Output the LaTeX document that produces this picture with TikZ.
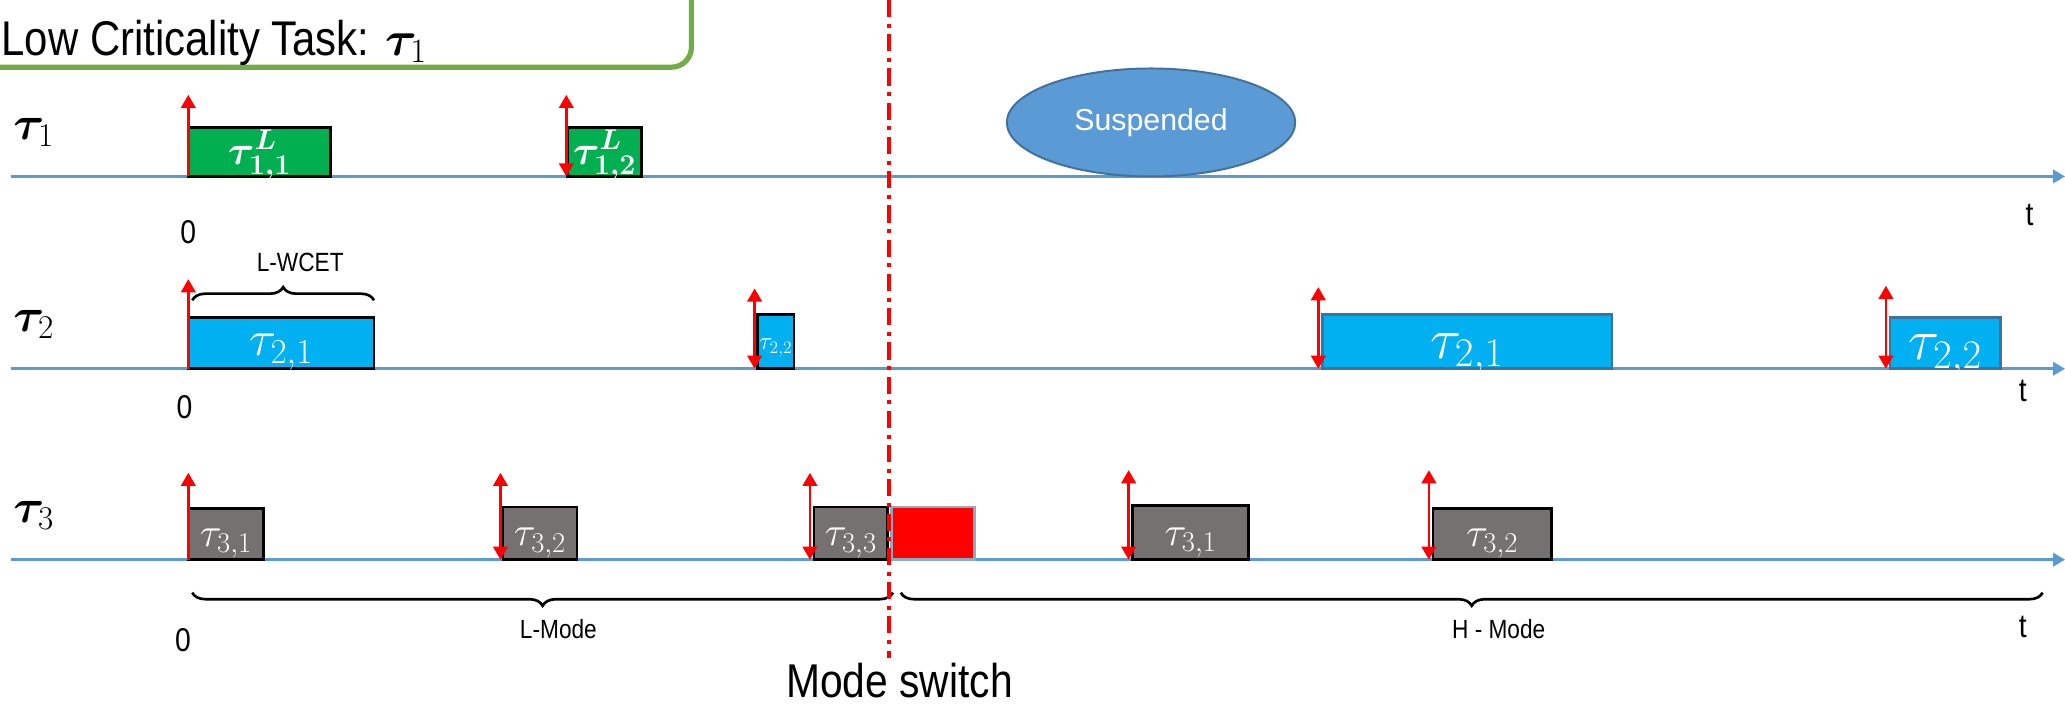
\RequirePackage{fix-cm}
\documentclass[tikz,border=0pt]{standalone}
\usepackage{bm}
\usepackage{fontspec}
\setmainfont{Liberation Sans}
\newfontfamily\narrowfont[FakeStretch=0.86]{Liberation Sans}
\usetikzlibrary{shapes.geometric, arrows.meta, positioning, decorations.pathreplacing}
\definecolor{jobgreen}{HTML}{00B050}
\definecolor{jobcyan}{HTML}{00B0F0}
\definecolor{jobgray}{HTML}{767171}
\definecolor{axisblue}{HTML}{5B9BD5}
\definecolor{edgeblue}{HTML}{41719C}
\definecolor{framegreen}{HTML}{70AD47}
\tikzstyle{job} = [
    rectangle,
    anchor=south west,
    inner sep=0pt,
    outer sep=0pt,
    text=white,
    text height=19pt,
    text depth=0pt,
    draw=black,
    line width=2pt,
    font=\fontsize{31}{36}\selectfont
]
\tikzstyle{lowjob} = [job, fill=jobgreen]
\tikzstyle{midjob} = [job, fill=jobcyan]
\tikzstyle{highjob} = [job, fill=jobcyan, draw=edgeblue, text height=25pt, font=\fontsize{44}{50}\selectfont]
\tikzstyle{grayjob} = [job, fill=jobgray]
\tikzstyle{timeaxis} = [
    axisblue, 
    line width=2pt, 
    -{Triangle[length=9pt, width=10pt]}
]
\tikzstyle{release} = [red, line width=2pt, -{Triangle[length=10pt, width=11pt]}]
\tikzstyle{releaseboth} = [red, line width=2pt, {Triangle[length=10pt, width=11pt]}-{Triangle[length=10pt, width=11pt]}]
\tikzstyle{spanbrace} = [decorate, decoration={brace, amplitude=10pt}, line width=2pt]
\tikzstyle{rowlabel} = [anchor=base west, inner sep=0pt, font=\fontsize{36}{42}\selectfont]
\tikzstyle{origin} = [inner sep=0pt, font=\narrowfont\fontsize{25}{30}\selectfont]
\tikzstyle{spanlabel} = [inner sep=0pt, font=\narrowfont\fontsize{20}{24}\selectfont]
\tikzstyle{modeline} = [red, line width=3.5pt, dash pattern=on 13pt off 5pt on 3pt off 5pt]

\begin{document}
\begin{tikzpicture}[x=1pt, y=-1pt]

\useasboundingbox (0,0) rectangle (1568,537);
\clip (0,0) rectangle (1568,537);

% Legend frame
\draw [framegreen, line width=4pt, rounded corners=15pt] (-30,-40) rectangle (525,51);
\node (legend) [anchor=base west, inner sep=0pt, font=\narrowfont\fontsize{37}{42}\selectfont] at (1,42) {Low Criticality Task: $\bm{\tau}_1$};

% Axes
\coordinate (ax1) at (8,134);
\coordinate (ax1e) at (1568,134);
\coordinate (ax2) at (8,280);
\coordinate (ax2e) at (1568,280);
\coordinate (ax3) at (8,425);
\coordinate (ax3e) at (1568,425);
\draw [timeaxis] (ax1) -- (ax1e);
\draw [timeaxis] (ax2) -- (ax2e);
\draw [timeaxis] (ax3) -- (ax3e);

\node (task1) [rowlabel] at (10,106) {$\bm{\tau}_1$};
\node (task2) [rowlabel] at (10,252) {$\bm{\tau}_2$};
\node (task3) [rowlabel] at (10,397) {$\bm{\tau}_3$};

\node (zero1) [origin] at (143,176) {0};
\node (zero2) [origin] at (140,309) {0};
\node (zero3) [origin] at (139,486) {0};
\node (time1) [origin] at (1541,163) {t};
\node (time2) [origin] at (1536,297) {t};
\node (time3) [origin] at (1536,476) {t};

% Nodes
\node (j11) [lowjob, minimum width=108pt, minimum height=37pt] at (143,134) {$\bm{\tau^{L}_{1,1}}$};
\node (j12) [lowjob, minimum width=56pt, minimum height=37pt] at (431,134) {$\bm{\tau^{L}_{1,2}}$};
\node (susp) [ellipse, draw=edgeblue, fill=axisblue, line width=1.5pt, minimum width=219pt, minimum height=82pt, text=white, font=\fontsize{23}{27}\selectfont] at (874,93) {Suspended};

\node (j21) [midjob, minimum width=141pt, minimum height=39pt, font=\fontsize{38}{44}\selectfont] at (143,280) {$\tau_{2,1}$};
\node (j22) [midjob, minimum width=28pt, minimum height=41pt, text height=12pt, font=\fontsize{19}{22}\selectfont] at (575,280) {$\tau_{2,2}$};
\node (h21) [highjob, minimum width=220pt, minimum height=41pt] at (1004,280) {$\tau_{2,1}$};
\node (h22) [highjob, minimum width=84pt, minimum height=39pt] at (1435,280) {$\tau_{2,2}$};

\node (j31) [grayjob, minimum width=57pt, minimum height=39pt] at (143,425) {$\tau_{3,1}$};
\node (j32) [grayjob, minimum width=56pt, minimum height=40pt] at (382,425) {$\tau_{3,2}$};
\node (j33) [grayjob, minimum width=56pt, minimum height=40pt] at (618,425) {$\tau_{3,3}$};
\node (over) [job, fill=red, draw=edgeblue!60, minimum width=63pt, minimum height=40pt] at (677,425) {};
\node (h31) [grayjob, minimum width=88pt, minimum height=41pt] at (860,425) {$\tau_{3,1}$};
\node (h32) [grayjob, minimum width=90pt, minimum height=39pt] at (1088,425) {$\tau_{3,2}$};

% Braces
\coordinate (wcetl) at (146,228);
\coordinate (wcetr) at (284,228);
\draw [spanbrace] (wcetl) -- (wcetr);
\node (wcet) [spanlabel] at (228,199) {L-WCET};

\coordinate (lmodel) at (146,450);
\coordinate (lmoder) at (678,450);
\coordinate (hmodel) at (684,450);
\coordinate (hmoder) at (1551,450);
\draw [spanbrace] (lmoder) -- (lmodel);
\draw [spanbrace] (hmoder) -- (hmodel);
\node (lmode) [spanlabel] at (424,478) {L-Mode};
\node (hmode) [spanlabel] at (1138,478) {H - Mode};

% Mode switch
\coordinate (mstop) at (675,0);
\coordinate (msbot) at (675,500);
\draw [modeline] (mstop) -- (msbot);
\node (switch) [anchor=base, inner sep=0pt, font=\narrowfont\fontsize{36}{42}\selectfont] at (683,530) {Mode switch};

% Arrows
\coordinate (r11) at (143,72);
\coordinate (r12) at (430,72);
\coordinate (r21) at (143,212);
\coordinate (r22) at (573,219);
\coordinate (q21) at (1001,218);
\coordinate (q22) at (1432,217);
\coordinate (r31) at (143,359);
\coordinate (r32) at (380,359);
\coordinate (r33) at (615,359);
\coordinate (q31) at (857,357);
\coordinate (q32) at (1085,357);
\draw [release] (r11 |- ax1) -- (r11);
\draw [releaseboth] (r12 |- ax1) -- (r12);
\draw [release] (r21 |- ax2) -- (r21);
\draw [releaseboth] (r22 |- ax2) -- (r22);
\draw [releaseboth] (q21 |- ax2) -- (q21);
\draw [releaseboth] (q22 |- ax2) -- (q22);
\draw [release] (r31 |- ax3) -- (r31);
\draw [releaseboth] (r32 |- ax3) -- (r32);
\draw [releaseboth] (r33 |- ax3) -- (r33);
\draw [releaseboth] (q31 |- ax3) -- (q31);
\draw [releaseboth] (q32 |- ax3) -- (q32);

\end{tikzpicture}
\end{document}
